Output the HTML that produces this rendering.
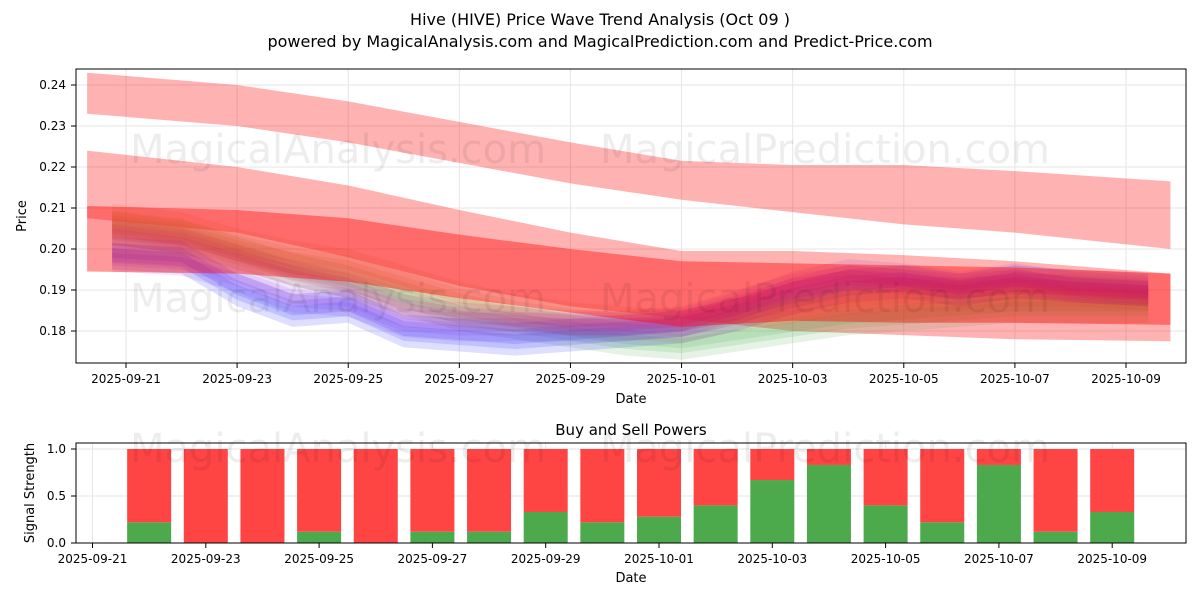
<!DOCTYPE html>
<html><head><meta charset="utf-8"><style>
body{margin:0;background:#fff;font-family:"Liberation Sans","DejaVu Sans",sans-serif;}
svg text{font-family:"DejaVu Sans","Liberation Sans",sans-serif;}
</style></head><body>
<svg id="c" width="1200" height="600" xmlns="http://www.w3.org/2000/svg">
<rect width="1200" height="600" fill="#fff"/>
<text x="600" y="25" text-anchor="middle" font-size="16">Hive (HIVE) Price Wave Trend Analysis (Oct 09 )</text>
<text x="600" y="47" text-anchor="middle" font-size="16">powered by MagicalAnalysis.com and MagicalPrediction.com and Predict-Price.com</text>
<g id="main"></g><g id="sub"></g>
</svg>
<script>
const dayLabels=["2025-09-21","2025-09-23","2025-09-25","2025-09-27","2025-09-29","2025-10-01","2025-10-03","2025-10-05","2025-10-07","2025-10-09"];
const priceTicks=[0.18,0.19,0.20,0.21,0.22,0.23,0.24];
const bandDays=[-0.7,2,4,6,8,10,12,14,16,18.8];
const band1Top=[0.243,0.240,0.236,0.231,0.226,0.2215,0.2205,0.2205,0.219,0.2165];
const band1Bot=[0.233,0.230,0.226,0.221,0.216,0.212,0.209,0.206,0.204,0.200];
const band2Top=[0.224,0.220,0.2155,0.2095,0.204,0.1995,0.1995,0.1985,0.197,0.194];
const band2Bot=[0.2075,0.204,0.198,0.191,0.186,0.183,0.180,0.179,0.178,0.1775];
const band3Top=[0.2105,0.2095,0.2075,0.2035,0.200,0.197,0.1965,0.196,0.1955,0.194];
const band3Bot=[0.1945,0.194,0.192,0.188,0.1845,0.181,0.1825,0.182,0.182,0.1815];
const lineDays=[-0.25,1,2,3,4,5,6,7,8,9,10,11,12,13,14,15,16,17,18.4];
const blueVals=[0.199,0.198,0.190,0.185,0.186,0.180,0.179,0.178,0.179,0.180,0.181,0.184,0.188,0.191,0.192,0.190,0.192,0.191,0.190];
const purpleVals=[0.198,0.197,0.193,0.188,0.187,0.182,0.181,0.181,0.181,0.181,0.182,0.186,0.191,0.194,0.193,0.191,0.193,0.191,0.190];
const greenVals=[0.205,0.203,0.199,0.195,0.192,0.188,0.184,0.182,0.180,0.178,0.177,0.179,0.181,0.183,0.184,0.185,0.186,0.186,0.186];
const orangeVals=[0.207,0.205,0.201,0.198,0.196,0.192,0.188,0.185,0.183,0.182,0.181,0.184,0.186,0.188,0.189,0.189,0.190,0.190,0.189];
const pinkVals=[0.204,0.202,0.198,0.194,0.191,0.186,0.184,0.183,0.182,0.182,0.183,0.187,0.191,0.193,0.192,0.191,0.192,0.190,0.189];
const barDays=[1,2,3,4,5,6,7,8,9,10,11,12,13,14,15,16,17,18];
const buyVals=[0.22,0,0,0.12,0,0.12,0.12,0.33,0.22,0.28,0.4,0.67,0.83,0.4,0.22,0.83,0.12,0.33];
const sellVals=[0.78,1,1,0.88,1,0.88,0.88,0.67,0.78,0.72,0.6,0.33,0.17,0.6,0.78,0.17,0.88,0.67];
const strengthTicks=[0,0.5,1.0];

const NS="http://www.w3.org/2000/svg";
const X=d=>126+d*1000/18;
const X2=d=>92.5+d*56.65;
const Y=v=>331-(v-0.18)*4100;
const Y2=v=>543-v*94;
function mk(p,t,a){const e=document.createElementNS(NS,t);for(const k in a)e.setAttribute(k,a[k]);p.appendChild(e);return e;}
const M=document.getElementById('main'),S=document.getElementById('sub');
mk(M,'rect',{x:76,y:69,width:1110,height:294,fill:'#fff'});
priceTicks.forEach(v=>{const y=Y(v);
 const g=mk(M,'line',{x1:76,x2:1186,y1:y,y2:y,stroke:'#e6e6e6'});
 
 mk(M,'line',{x1:71,x2:76,y1:y,y2:y,stroke:'#000'});
 const t=mk(M,'text',{x:66,y:y+4,'text-anchor':'end','font-size':12});t.textContent=v.toFixed(2);
 });
dayLabels.forEach((l,i)=>{const x=X(i*2);
 mk(M,'line',{x1:x,x2:x,y1:69,y2:363,stroke:'#e6e6e6'});
 mk(M,'line',{x1:x,x2:x,y1:363,y2:368,stroke:'#000'});
 const t=mk(M,'text',{x:x,y:383,'text-anchor':'middle','font-size':12});t.textContent=l;
 
 mk(S,'line',{x1:X2(i*2),x2:X2(i*2),y1:443,y2:543,stroke:'#e6e6e6'});});
function band(top,bot,fill,op,name){
 let d='M'+bandDays.map((x,i)=>X(x)+','+Y(top[i])).join('L')+'L'+bandDays.map((x,i)=>X(x)+','+Y(bot[i])).reverse().join('L')+'Z';
 const p=mk(M,'path',{d:d,fill:fill,'fill-opacity':op});
 }
band(band1Top,band1Bot,'#ff0000',0.3,'upper-band');
band(band2Top,band2Bot,'#ff0000',0.3,'middle-band');
function wave(vals,col,w,name){
 [w,w*0.6,w*0.3].forEach(ww=>{
 let d='M'+lineDays.map((x,i)=>X(x)+','+Y(vals[i]+ww)).join('L')+'L'+lineDays.map((x,i)=>X(x)+','+Y(vals[i]-ww)).reverse().join('L')+'Z';
 const p=mk(M,'path',{d:d,fill:col,'fill-opacity':0.13});
 });}
wave(greenVals,'#2ca02c',0.004,'green-wave');
wave(blueVals,'#0000ff',0.004,'blue-wave');
wave(orangeVals,'#d2691e',0.004,'orange-wave');
wave(purpleVals,'#8a2be2',0.0035,'purple-wave');
wave(pinkVals,'#c71585',0.003,'pink-wave');
band(band3Top,band3Bot,'#ff0000',0.4,'lower-band');
mk(M,'rect',{x:76,y:69,width:1110,height:294,fill:'none',stroke:'#000'});
let t=mk(M,'text',{x:631,y:403,'text-anchor':'middle','font-size':13});t.textContent='Date';
t=mk(M,'text',{x:26,y:216,'text-anchor':'middle','font-size':13,transform:'rotate(-90 26 216)'});t.textContent='Price';
[[130,163],[600,163],[130,312],[600,312]].forEach((p,i)=>{const w=mk(M,'text',{x:p[0],y:p[1],'font-size':40,fill:'#000','fill-opacity':0.07});w.textContent=i%2?'MagicalPrediction.com':'MagicalAnalysis.com';});
strengthTicks.forEach(v=>{const y=Y2(v);mk(S,'line',{x1:76,x2:1186,y1:y,y2:y,stroke:'#e6e6e6'});
 mk(S,'line',{x1:71,x2:76,y1:y,y2:y,stroke:'#000'});
 const tt=mk(S,'text',{x:66,y:y+4,'text-anchor':'end','font-size':12});tt.textContent=v.toFixed(1);});
dayLabels.forEach((l,i)=>{const x=X2(i*2);mk(S,'line',{x1:x,x2:x,y1:543,y2:548,stroke:'#000'});
 const tt=mk(S,'text',{x:x,y:563,'text-anchor':'middle','font-size':12});tt.textContent=l;});
barDays.forEach((d,i)=>{const x=X2(d)-22;
 const g=mk(S,'rect',{x:x,y:Y2(buyVals[i]),width:44,height:buyVals[i]*94,fill:'#4caa4c'});
 
 const r=mk(S,'rect',{x:x,y:Y2(buyVals[i]+sellVals[i]),width:44,height:sellVals[i]*94,fill:'#ff4444'});
 });
mk(S,'rect',{x:76,y:443,width:1110,height:100,fill:'none',stroke:'#000'});
[[130,462],[600,462]].forEach((p,i)=>{const w=mk(S,'text',{x:p[0],y:p[1],'font-size':40,fill:'#000','fill-opacity':0.07});w.textContent=i?'MagicalPrediction.com':'MagicalAnalysis.com';});
t=mk(S,'text',{x:631,y:435,'text-anchor':'middle','font-size':15});t.textContent='Buy and Sell Powers';
t=mk(S,'text',{x:631,y:582,'text-anchor':'middle','font-size':13});t.textContent='Date';
t=mk(S,'text',{x:34,y:493,'text-anchor':'middle','font-size':13,transform:'rotate(-90 34 493)'});t.textContent='Signal Strength';
</script>
</body></html>
